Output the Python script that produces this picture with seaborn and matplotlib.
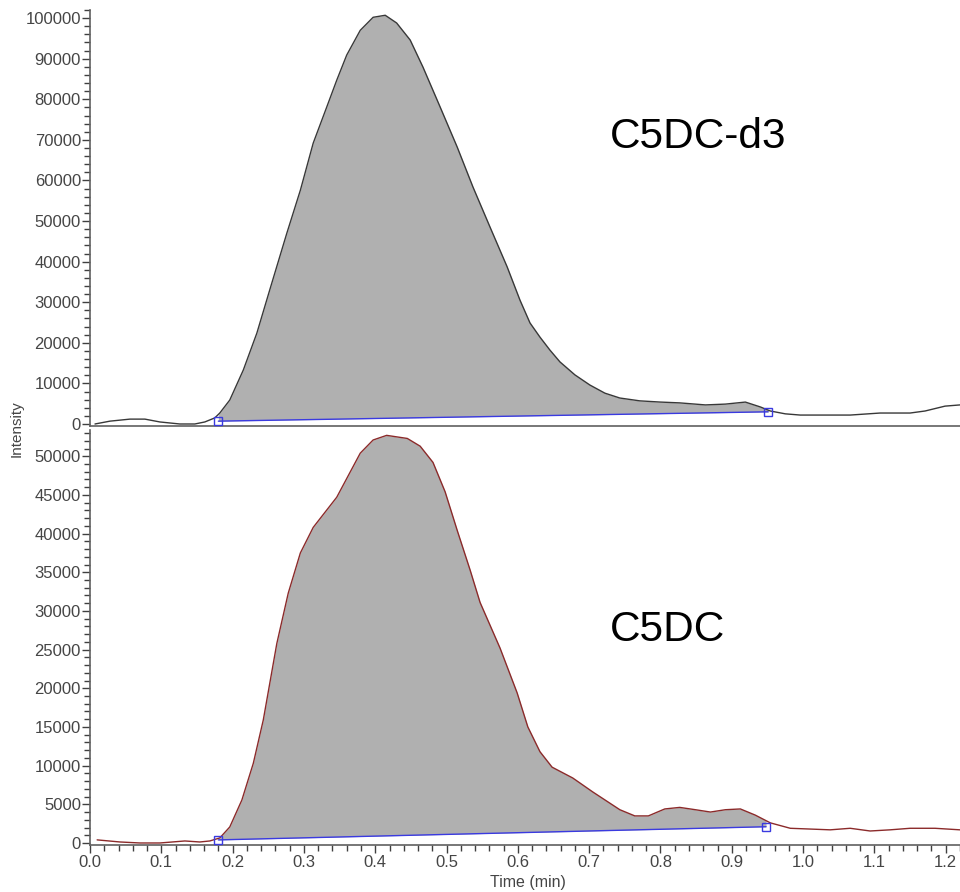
import numpy as np
import pandas as pd
import matplotlib
matplotlib.use("Agg")
import matplotlib.pyplot as plt
from matplotlib.ticker import MultipleLocator, FormatStrFormatter
import seaborn as sns

# ---- data ----
t_top = [0.007, 0.028, 0.056, 0.077, 0.098, 0.126, 0.147, 0.161, 0.175, 0.182, 0.196, 0.215,
         0.234, 0.252, 0.276, 0.295, 0.313, 0.332, 0.346, 0.360, 0.379, 0.397, 0.414, 0.430,
         0.449, 0.467, 0.491, 0.515, 0.537, 0.561, 0.585, 0.603, 0.617, 0.631, 0.645, 0.659,
         0.680, 0.701, 0.722, 0.743, 0.771, 0.800, 0.827, 0.863, 0.891, 0.919, 0.940, 0.954,
         0.975, 0.996, 1.024, 1.066, 1.108, 1.150, 1.171, 1.199, 1.220]
i_top = [0, 700, 1200, 1200, 500, 0, 0, 500, 1500, 2700, 5900, 13300,
         22400, 33000, 47000, 57600, 69200, 78100, 84700, 90900, 97000, 100200, 100700, 98800,
         94600, 87900, 78100, 68200, 58400, 48500, 38700, 30500, 24900, 21400, 18200, 15300,
         12100, 9600, 7600, 6400, 5700, 5400, 5200, 4700, 4900, 5400, 4200, 3200,
         2500, 2200, 2200, 2200, 2700, 2700, 3200, 4400, 4700]

t_bot = [0.010, 0.042, 0.070, 0.098, 0.133, 0.154, 0.168, 0.182, 0.196, 0.213, 0.229, 0.243,
         0.262, 0.278, 0.295, 0.313, 0.346, 0.379, 0.397, 0.416, 0.445, 0.463, 0.481, 0.498,
         0.515, 0.533, 0.547, 0.575, 0.599, 0.614, 0.631, 0.648, 0.677, 0.705, 0.743, 0.764,
         0.783, 0.806, 0.827, 0.849, 0.870, 0.891, 0.912, 0.933, 0.954, 0.982, 1.010, 1.038,
         1.066, 1.094, 1.122, 1.150, 1.185, 1.220]
i_bot = [400, 130, 0, 0, 260, 130, 260, 650, 2070, 5560, 10300, 15900,
         25800, 32300, 37500, 40800, 44700, 50400, 52100, 52700, 52300, 51300, 49200, 45400,
         40400, 35300, 31100, 25200, 19400, 15000, 11800, 9800, 8400, 6600, 4300, 3500,
         3500, 4400, 4600, 4300, 4000, 4300, 4400, 3600, 2600, 1900, 1800, 1700,
         1900, 1550, 1700, 1900, 1900, 1700]

# integration baselines (start/end markers)
base_top_t = [0.180, 0.951]
base_top_i = [700, 3000]
base_bot_t = [0.180, 0.948]
base_bot_i = [400, 2100]

labels = ["C5DC-d3", "C5DC"]

# ---- style ----
sns.set_theme(style="white")
plt.rcParams['font.family'] = ['Liberation Sans', 'DejaVu Sans']
tick_color = "#454545"

fig = plt.figure(figsize=(9.6, 8.92), dpi=100)
ax1 = fig.add_axes([0.09375, 0.5224, 0.90625, 0.4664])
ax2 = fig.add_axes([0.09375, 0.0527, 0.90625, 0.4653])

def draw(ax, t, inten, bt, bi, line_color, label, ylim, major, minor, label_pos):
    df = pd.DataFrame({"t": t, "i": inten})
    tt = np.array(t)
    ii = np.array(inten)
    # fill region between trace and baseline
    mask = (tt >= bt[0]) & (tt <= bt[1])
    xs = np.concatenate([[bt[0]], tt[mask], [bt[1]]])
    ys = np.interp(xs, tt, ii)
    bs = np.interp(xs, bt, bi)
    ax.fill_between(xs, bs, ys, color="#b0b0b0", linewidth=0, zorder=1)
    sns.lineplot(data=df, x="t", y="i", ax=ax, color=line_color, linewidth=1.0, zorder=3)
    ax.plot(bt, bi, color="#3a3ae0", linewidth=1.0, zorder=4)
    ax.plot(bt, bi, linestyle="none", marker="s", markersize=6, markerfacecolor="none",
            markeredgecolor="#3a3ae0", markeredgewidth=1.0, zorder=5)
    ax.set_xlim(0, 1.22)
    ax.set_ylim(*ylim)
    ax.yaxis.set_major_locator(MultipleLocator(major))
    ax.yaxis.set_minor_locator(MultipleLocator(minor))
    ax.xaxis.set_major_locator(MultipleLocator(0.1))
    ax.xaxis.set_minor_locator(MultipleLocator(0.02))
    ax.xaxis.set_major_formatter(FormatStrFormatter("%.1f"))
    ax.set_xlabel("")
    ax.set_ylabel("")
    for s in ["top", "right"]:
        ax.spines[s].set_visible(False)
    for s in ["left", "bottom"]:
        ax.spines[s].set_color("#606060")
        ax.spines[s].set_linewidth(1.2)
    ax.tick_params(axis="both", which="major", direction="out", length=6, width=1,
                   color="#404040", labelsize=12, labelcolor=tick_color, pad=1,
                   left=True, bottom=True)
    ax.tick_params(axis="both", which="minor", direction="out", length=4, width=1,
                   color="#404040", left=True, bottom=True)
    ax.tick_params(axis="y", which="major", pad=0.5)
    ax.text(label_pos[0], label_pos[1], label, fontsize=30.5, color="black",
            va="center", ha="left")

draw(ax1, t_top, i_top, base_top_t, base_top_i, "#383838", labels[0],
     (-500, 102000), 10000, 2000, (0.729, 70700))
draw(ax2, t_bot, i_bot, base_bot_t, base_bot_i, "#8b2a2a", labels[1],
     (-260, 53400), 5000, 1000, (0.729, 27500))

ax1.tick_params(axis="x", which="both", bottom=False, labelbottom=False)

fig.text(0.017, 0.52, "Intensity", rotation=90, fontsize=11, color=tick_color,
         ha="center", va="center")
fig.text(0.55, 0.0101, "Time (min)", fontsize=11.5, color=tick_color, ha="center", va="center")

fig.savefig("out.png", dpi=100)
